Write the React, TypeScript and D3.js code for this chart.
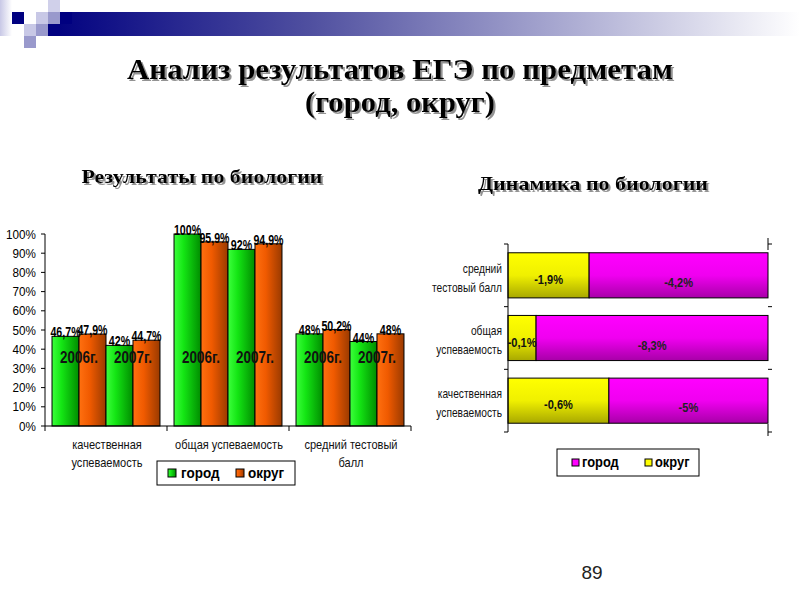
import React from "react";
import * as d3 from "d3";

// ---- Left chart data: Результаты по биологии ----
const categories = ["качественная успеваемость", "общая успеваемость", "средний тестовый балл"];
const categoryLines = [["качественная", "успеваемость"], ["общая успеваемость"], ["средний тестовый", "балл"]];
const subKeys = ["город2006", "округ2006", "город2007", "округ2007"];
const gorod2006 = [46.7, 100, 48];
const okrug2006 = [47.9, 95.9, 50.2];
const gorod2007 = [42, 92, 44];
const okrug2007 = [44.7, 94.9, 48];
const yearLabels = ["2006г.", "2007г."];
const yTicks = [0, 10, 20, 30, 40, 50, 60, 70, 80, 90, 100];

// ---- Right chart data: Динамика по биологии (100% stacked) ----
const dynCategories = ["средний тестовый балл", "общая успеваемость", "качественная успеваемость"];
const dynCategoryLines = [["средний", "тестовый балл"], ["общая", "успеваемость"], ["качественная", "успеваемость"]];
const okrugShare = [31.2, 10.8, 38.8];
const gorodShare = [68.8, 89.2, 61.2];
const okrugLabels = ["-1,9%", "-0,1%", "-0,6%"];
const gorodLabels = ["-4,2%", "-8,3%", "-5%"];

const SANS = "'Liberation Sans', Arial, sans-serif";
const SERIF = "'Liberation Serif', 'Times New Roman', serif";

const fmt = (v: number) => String(v).replace(".", ",") + "%";

type TP = {
  x: number; y: number; sx?: number; size: number; bold?: boolean; anchor?: "start" | "middle" | "end";
  fill?: string; dy?: string; children: React.ReactNode;
};
function T({ x, y, sx = 0.85, size, bold, anchor = "start", fill = "#000", dy, children }: TP) {
  return (
    <text transform={`translate(${x},${y}) scale(${sx},1)`} textAnchor={anchor} fontFamily={SANS}
      fontWeight={bold ? "bold" : "normal"} fontSize={size} fill={fill} dy={dy}>
      {children}
    </text>
  );
}

export default function App() {
  // Left chart scales
  const x0 = d3.scaleBand<string>().domain(categories).range([45, 411]).paddingInner(0).paddingOuter(0);
  const x1 = d3.scaleBand<string>().domain(subKeys).range([0, x0.bandwidth()]).paddingInner(0).paddingOuter(0.26);
  const y = d3.scaleLinear().domain([0, 100]).range([426, 234]);
  const seriesVals = [gorod2006, okrug2006, gorod2007, okrug2007];

  // Right chart scales
  const xr = d3.scaleLinear().domain([0, 100]).range([508, 768]);
  const yr = d3.scaleBand<string>().domain(dynCategories).range([244, 432]).paddingInner(0.28).paddingOuter(0.14);

  const titleLines = ["Анализ результатов ЕГЭ по предметам", "(город, округ)"];
  const titleWidths = [546, 190];
  const squares: [number, number, string][] = [
    [12, 12, "#000080"], [36, 12, "#c8c8e6"], [48, 0, "#d0d0ea"], [48, 12, "#9999cc"], [60, 12, "#000080"],
    [24, 24, "#c8c8e6"], [36, 24, "#9999cc"], [48, 24, "#000080"], [24, 36, "#9999cc"],
  ];

  return (
    <svg width={800} height={600} style={{ position: "absolute", left: 0, top: 0, background: "#fff" }}>
      <defs>
        <filter id="shadow" x="-5%" y="-20%" width="110%" height="150%">
          <feDropShadow dx="2" dy="2" stdDeviation="0.7" floodColor="#777" floodOpacity="0.8" />
        </filter>
        <linearGradient id="topbar" x1="0" x2="1" y1="0" y2="0">
          <stop offset="0" stopColor="#000080" />
          <stop offset="0.35" stopColor="#5050a0" />
          <stop offset="0.65" stopColor="#a0a0cc" />
          <stop offset="1" stopColor="#ffffff" />
        </linearGradient>
        <linearGradient id="leftedge" x1="0" x2="1" y1="0" y2="0">
          <stop offset="0" stopColor="#c8c8e6" />
          <stop offset="1" stopColor="#ffffff" />
        </linearGradient>
        <linearGradient id="gGreen" x1="0" x2="1" y1="0" y2="0">
          <stop offset="0" stopColor="#3cff3c" />
          <stop offset="0.35" stopColor="#14e614" />
          <stop offset="1" stopColor="#008c00" />
        </linearGradient>
        <linearGradient id="gOrange" x1="0" x2="1" y1="0" y2="0">
          <stop offset="0" stopColor="#ff7010" />
          <stop offset="0.4" stopColor="#f05a00" />
          <stop offset="1" stopColor="#9a3a00" />
        </linearGradient>
        <linearGradient id="gMagenta" x1="0" x2="0" y1="0" y2="1">
          <stop offset="0" stopColor="#ff00ff" />
          <stop offset="0.5" stopColor="#f000f0" />
          <stop offset="1" stopColor="#a800a8" />
        </linearGradient>
        <linearGradient id="gYellow" x1="0" x2="0" y1="0" y2="1">
          <stop offset="0" stopColor="#ffff00" />
          <stop offset="0.5" stopColor="#f0f000" />
          <stop offset="1" stopColor="#a8a800" />
        </linearGradient>
      </defs>

      {/* decoration */}
      <rect x={48} y={12} width={752} height={24} fill="url(#topbar)" />
      <rect x={0} y={0} width={12} height={36} fill="url(#leftedge)" />
      {squares.map(([sx, sy, c], i) => (
        <rect key={i} x={sx} y={sy} width={12} height={12} fill={c} />
      ))}

      {/* title */}
      {titleLines.map((t, i) => (
        <text key={i} x={400} y={79 + i * 33} textAnchor="middle" fontFamily={SERIF} fontWeight="bold" fontSize={30}
          textLength={titleWidths[i]} lengthAdjust="spacingAndGlyphs" filter="url(#shadow)" fill="#000">{t}</text>
      ))}
      <text x={202} y={183} textAnchor="middle" fontFamily={SERIF} fontWeight="bold" fontSize={19}
        textLength={241} lengthAdjust="spacingAndGlyphs" filter="url(#shadow)">Результаты по биологии</text>
      <text x={593} y={190} textAnchor="middle" fontFamily={SERIF} fontWeight="bold" fontSize={19}
        textLength={230} lengthAdjust="spacingAndGlyphs" filter="url(#shadow)">Динамика по биологии</text>

      {/* ---- Left chart ---- */}
      <g>
        {yTicks.map((t) => (
          <g key={t}>
            <line x1={41} x2={45} y1={y(t)} y2={y(t)} stroke="#000" />
            <T x={36} y={y(t)} dy="0.35em" anchor="end" size={13} sx={0.9}>{t + "%"}</T>
          </g>
        ))}
        {categories.map((c, ci) => (
          <g key={c}>
            {subKeys.map((k, si) => {
              const v = seriesVals[si][ci];
              const bx = (x0(c) as number) + (x1(k) as number);
              return (
                <rect key={k} x={bx} y={y(v)} width={x1.bandwidth()} height={y(0) - y(v)}
                  fill={si % 2 === 0 ? "url(#gGreen)" : "url(#gOrange)"} stroke="#000" strokeWidth={1} />
              );
            })}
          </g>
        ))}
        <line x1={45} x2={45} y1={y(100)} y2={y(0)} stroke="#000" />
        <line x1={45} x2={411} y1={y(0)} y2={y(0)} stroke="#000" />
        {[...categories.map((c) => x0(c) as number), 411].map((bx, i) => (
          <line key={i} x1={bx} x2={bx} y1={y(0)} y2={y(0) + 5} stroke="#000" />
        ))}
        {categories.map((c, ci) => (
          <g key={c + "lbl"}>
            {subKeys.map((k, si) => {
              const v = seriesVals[si][ci];
              const cx = (x0(c) as number) + (x1(k) as number) + x1.bandwidth() / 2;
              return (
                <T key={k} x={cx} y={y(v) + 1} anchor="middle" bold size={14} sx={0.76}>{fmt(v)}</T>
              );
            })}
            {yearLabels.map((yl, yi) => {
              const cx = (x0(c) as number) + (x1(subKeys[yi * 2 + 1]) as number);
              return (
                <T key={yl} x={cx} y={363} anchor="middle" bold size={16} sx={0.84} fill="#111">{yl}</T>
              );
            })}
            {categoryLines[ci].map((ln, li) => (
              <T key={li} x={(x0(c) as number) + x0.bandwidth() / 2 + 1} y={449 + li * 18} anchor="middle" size={13} sx={0.85} fill="#111">{ln}</T>
            ))}
          </g>
        ))}
        {/* legend */}
        <rect x={157} y={461} width={138} height={24} fill="#fff" stroke="#000" />
        <rect x={168} y={469} width={8} height={8} fill="url(#gGreen)" stroke="#000" />
        <T x={181} y={478} bold size={15} sx={0.9}>город</T>
        <rect x={236} y={469} width={8} height={8} fill="url(#gOrange)" stroke="#000" />
        <T x={248} y={478} bold size={15} sx={0.9}>округ</T>
      </g>

      {/* ---- Right chart ---- */}
      <g>
        {dynCategories.map((c, i) => {
          const by = yr(c) as number;
          const bh = yr.bandwidth();
          const xa = xr(0);
          const xb = xr(okrugShare[i]);
          const xc = xr(okrugShare[i] + gorodShare[i]);
          return (
            <g key={c}>
              <rect x={xa} y={by} width={xb - xa} height={bh} fill="url(#gYellow)" stroke="#000" />
              <rect x={xb} y={by} width={xc - xb} height={bh} fill="url(#gMagenta)" stroke="#000" />
              <T x={(xa + xb) / 2} y={by + bh / 2 + 4} dy="0.35em" anchor="middle" bold size={13} sx={0.85} fill="#111">{okrugLabels[i]}</T>
              <T x={(xb + xc) / 2} y={by + bh / 2 + 7} dy="0.35em" anchor="middle" bold size={13} sx={0.85} fill="#222">{gorodLabels[i]}</T>
              {dynCategoryLines[i].map((ln, li) => (
                <T key={li} x={502} y={by + bh / 2 - 7 + li * 19} anchor="end" dy="0.35em" size={12} sx={0.85} fill="#111">{ln}</T>
              ))}
            </g>
          );
        })}
        <line x1={508} x2={508} y1={244} y2={432} stroke="#000" />
        {[0, 1, 2, 3].map((i) => {
          const ty = 244 + (i * (432 - 244)) / 3;
          return (
            <g key={i}>
              <line x1={504} x2={508} y1={ty} y2={ty} stroke="#000" />
              <line x1={768} x2={772} y1={ty} y2={ty} stroke="#000" />
            </g>
          );
        })}
        <line x1={768} x2={768} y1={238} y2={250} stroke="#000" />
        <line x1={768} x2={768} y1={424} y2={436} stroke="#000" />
        {/* legend */}
        <rect x={557} y={449} width={142} height={27} fill="#fff" stroke="#000" />
        <rect x={572} y={459} width={7} height={7} fill="#ff00ff" stroke="#000" />
        <T x={582} y={467} bold size={14} sx={0.92}>город</T>
        <rect x={645} y={459} width={7} height={7} fill="#ffff00" stroke="#000" />
        <T x={655} y={467} bold size={14} sx={0.92}>округ</T>
      </g>

      <text x={592} y={579} textAnchor="middle" fontFamily={SANS} fontSize={19} fill="#222">89</text>
    </svg>
  );
}
